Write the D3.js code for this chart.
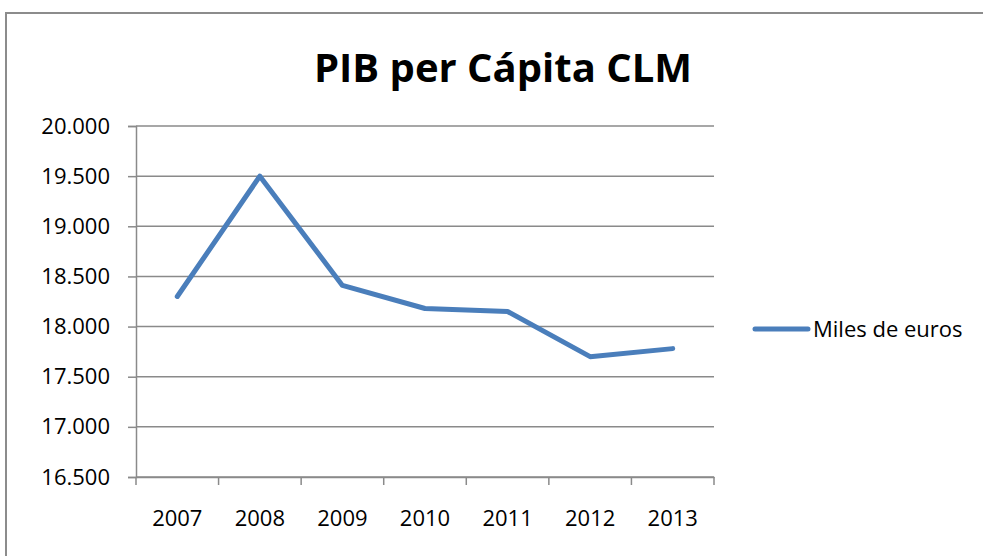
<!DOCTYPE html>
<html>
<head>
<meta charset="utf-8">
<script src="https://cdn.jsdelivr.net/npm/d3@7"></script>
<style>
  body { margin: 0; background: #fff; }
  #drawing-area { width: 983px; height: 556px; }
  text { font-family: "Open Sans", "Liberation Sans", sans-serif; fill: #000; }
</style>
</head>
<body>
<div id="drawing-area"></div>
<script>
var years = ["2007", "2008", "2009", "2010", "2011", "2012", "2013"];
var miles_de_euros = [18300, 19500, 18410, 18180, 18150, 17700, 17780];
var y_ticks = [16500, 17000, 17500, 18000, 18500, 19000, 19500, 20000];
var series_name = "Miles de euros";
var title = "PIB per Cápita CLM";

function draw_chart() {
    var sx = 983, sy = 556;
    var svg = d3.select('#drawing-area').append('svg').attr('width', sx).attr('height', sy);

    // outer chart border (runs off the right and bottom)
    svg.append("rect")
        .attr("x", 6).attr("y", 13).attr("width", 1000).attr("height", 600)
        .attr("style", "fill:none;stroke:#8c8c8c;stroke-width:2");

    var left = 136, right = 714, top = 126, bottom = 477;

    var x = d3.scaleBand().domain(years).range([left, right]);
    var y = d3.scaleLinear().domain([16500, 20000]).range([bottom, top]);

    var fmt = function (v) { return d3.format(",.0f")(v).replace(/,/g, "."); };

    // gridlines
    svg.append("g").selectAll("line").data(y_ticks).enter().append("line")
        .attr("x1", left).attr("x2", right)
        .attr("y1", function (d) { return y(d); }).attr("y2", function (d) { return y(d); })
        .attr("style", "stroke:#8a8a8a;stroke-width:1.5");

    // y axis
    var ya = svg.append("g").attr("transform", "translate(" + left + ",0)")
        .call(d3.axisLeft(y).tickValues(y_ticks).tickFormat(fmt).tickSize(8).tickPadding(18));
    ya.select(".domain").attr("style", "stroke:#8a8a8a;stroke-width:1.5");
    ya.selectAll(".tick line").attr("style", "stroke:#8a8a8a;stroke-width:1.5");
    ya.selectAll("text").attr("style", "font-size:22px;fill:#000").attr("font-family", null);

    // x axis
    var xa = svg.append("g").attr("transform", "translate(0," + bottom + ")")
        .call(d3.axisBottom(x).tickSize(0).tickPadding(33));
    xa.select(".domain").attr("style", "stroke:#8a8a8a;stroke-width:1.5");
    xa.selectAll("text").attr("style", "font-size:22px;fill:#000").attr("font-family", null);
    // category separators
    var edges = years.map(function (d) { return x(d); }).concat([right]);
    xa.selectAll(".sep").data(edges).enter().append("line")
        .attr("class", "sep")
        .attr("x1", function (d) { return d; }).attr("x2", function (d) { return d; })
        .attr("y1", 0).attr("y2", 8)
        .attr("style", "stroke:#8a8a8a;stroke-width:1.5");

    // series line
    var line = d3.line()
        .x(function (d, i) { return x(years[i]) + x.bandwidth() / 2; })
        .y(function (d) { return y(d); });
    svg.append("path").datum(miles_de_euros)
        .attr("d", line)
        .attr("style", "fill:none;stroke:#4a7ebb;stroke-width:5;stroke-linecap:round;stroke-linejoin:round");

    // title
    svg.append("text")
        .attr("x", 503).attr("y", 82)
        .attr("text-anchor", "middle")
        .attr("style", "font-size:40px;font-weight:bold")
        .text(title);

    // legend
    svg.append("line")
        .attr("x1", 755).attr("x2", 808).attr("y1", 329).attr("y2", 329)
        .attr("style", "stroke:#4a7ebb;stroke-width:5;stroke-linecap:round");
    svg.append("text")
        .attr("x", 813).attr("y", 329).attr("dy", "0.35em")
        .attr("style", "font-size:22px")
        .text(series_name);
}

draw_chart();
</script>
</body>
</html>
